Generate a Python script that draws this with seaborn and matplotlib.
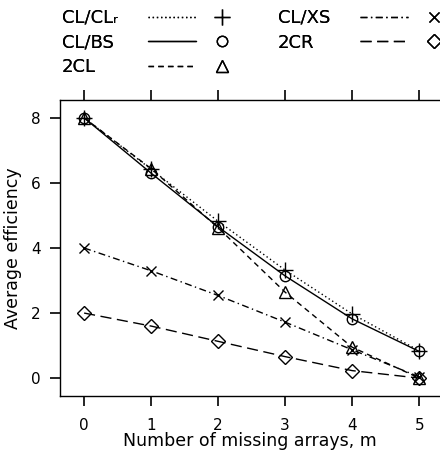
import pandas as pd
import seaborn as sns
import matplotlib
matplotlib.use("Agg")
import matplotlib.pyplot as plt
from matplotlib.lines import Line2D
from matplotlib.legend_handler import HandlerTuple

# data
m = [0, 1, 2, 3, 4, 5]
cl_clr = [8.0, 6.42, 4.82, 3.32, 1.97, 0.84]
cl_bs = [8.0, 6.30, 4.65, 3.14, 1.82, 0.82]
two_cl = [8.0, 6.44, 4.62, 2.64, 0.95, 0.0]
cl_xs = [4.0, 3.30, 2.54, 1.72, 0.87, 0.04]
two_cr = [2.0, 1.60, 1.13, 0.66, 0.23, 0.0]

names = ["CL/CL\u1d63", "CL/BS", "2CL", "CL/XS", "2CR"]
series = [cl_clr, cl_bs, two_cl, cl_xs, two_cr]
markers = ["+", "o", "^", "x", "D"]
dashes = [(1, 2), "", (4, 3), (5, 2.5, 1, 2.5), (8, 4)]
msizes = [11, 7.5, 8, 7, 7]

df = pd.DataFrame({
    "m": m * len(series),
    "eff": [v for s in series for v in s],
    "method": [n for n in names for _ in m],
})

sns.set_style("ticks")
plt.rcParams["font.family"] = ["DejaVu Sans", "Noto Sans"]
for k in ["text.color", "axes.labelcolor", "xtick.color", "ytick.color", "axes.edgecolor"]:
    plt.rcParams[k] = "black"

fig = plt.figure(figsize=(4.4, 4.54), dpi=100)
ax = fig.add_axes([60 / 440, 58 / 454, 1 - 60 / 440, 296 / 454])

for name, s, mk, ds, ms in zip(names, series, markers, dashes, msizes):
    sub = df[df["method"] == name]
    sns.lineplot(data=sub, x="m", y="eff", ax=ax, color="black", lw=1.0,
                 marker=mk, markersize=ms, mfc="none", mec="black", mew=1.0,
                 legend=False)
    if ds:
        ax.lines[-1].set_dashes(ds)

ax.set_xlim(-0.36, 5.31)
ax.set_ylim(-0.55, 8.55)
ax.set_xticks(m)
ax.set_yticks([0, 2, 4, 6, 8])
ax.spines["right"].set_visible(False)
for sp in ["left", "top", "bottom"]:
    ax.spines[sp].set_linewidth(1.0)
ax.tick_params(axis="x", which="both", top=True, bottom=True, direction="out",
               length=7, width=1.2, labelsize=11, pad=9)
ax.tick_params(axis="y", direction="out", length=7, width=1.2, labelsize=11, pad=7)
ax.set_xlabel("Number of missing arrays, m", fontsize=12.5, labelpad=-1)
ax.set_ylabel("Average efficiency", fontsize=12.5, labelpad=6)

# legend: label column, then line sample + marker
handles = []
for mk, ds, ms in zip(markers, dashes, msizes):
    ln = Line2D([], [], color="black", lw=1.0)
    if ds:
        ln.set_dashes(ds)
    mkr = Line2D([], [], color="black", ls="none", marker=mk, markersize=ms,
                 mfc="none", mew=1.0)
    handles.append((ln, mkr))

blank = Line2D([], [], ls="none")
fs = 13
common = dict(loc="upper left", frameon=False, borderaxespad=0, borderpad=0,
              labelspacing=0.36, fontsize=fs)
top = 1 - 9 / 454
cols = [(slice(0, 3), 62, 148), (slice(3, 5), 278, 360)]
for sl, x_lab, x_hnd in cols:
    lab = fig.legend([blank] * len(names[sl]), names[sl],
                     bbox_to_anchor=(x_lab / 440, top), handlelength=0,
                     handletextpad=0, **common)
    fig.add_artist(lab)
    hnd = fig.legend(handles[sl], [""] * len(names[sl]),
                     bbox_to_anchor=(x_hnd / 440, top),
                     handlelength=98 / (fs * 100 / 72), handletextpad=0,
                     handler_map={tuple: HandlerTuple(ndivide=None, pad=0.1)},
                     **common)
    fig.add_artist(hnd)

fig.savefig("out.png", dpi=100)
